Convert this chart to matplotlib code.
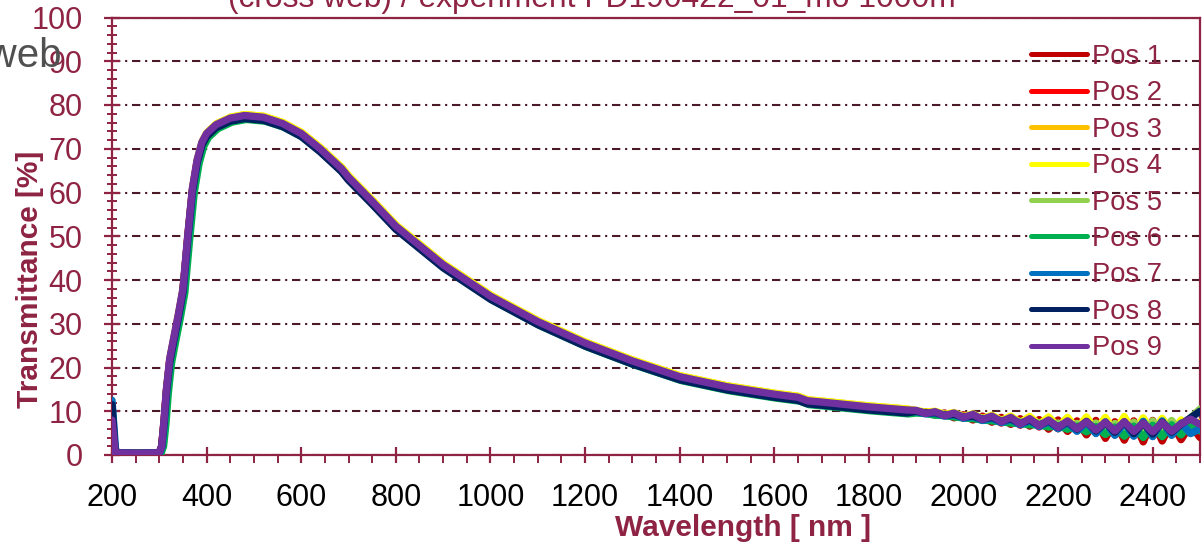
import matplotlib
matplotlib.use("Agg")
import matplotlib.pyplot as plt
from matplotlib.ticker import MultipleLocator

plt.rcParams['font.family'] = ['Liberation Sans', 'DejaVu Sans']

# ---------------- data ----------------
labels = ["Pos 1", "Pos 2", "Pos 3", "Pos 4", "Pos 5", "Pos 6", "Pos 7", "Pos 8", "Pos 9"]
colors = ["#C00000", "#FF0000", "#FFC000", "#FFFF00", "#92D050", "#00B050", "#0070C0", "#002060", "#7030A0"]

# shared main-region wavelength grid (nm) and values (%)
wl_main = [207, 250, 300, 305, 310, 315, 322, 330, 340, 350, 360, 370, 380, 390, 400, 420, 450,
           480, 520, 560, 600, 640, 670, 685, 700, 750, 800, 900, 1000, 1100, 1200, 1300, 1400,
           1500, 1600, 1650, 1670, 1700, 1800, 1880]
t_main = [0.5, 0.4, 0.5, 2.0, 8.0, 15.0, 22.0, 26.5, 32.0, 38.0, 50.0, 61.0, 67.5, 71.5, 73.5, 75.5, 77.0,
          77.6, 77.2, 75.8, 73.5, 70.0, 67.0, 65.5, 63.5, 58.0, 52.3, 43.5, 36.3, 30.5, 25.6, 21.5, 17.9,
          15.6, 13.9, 13.2, 12.4, 12.1, 11.0, 10.3]

# value at 200 nm for each position
t_start = [6.0, 5.0, 6.0, 7.0, 4.0, 3.0, 12.5, 11.5, 8.0]
# small per-position deviations in the main region
y_dev = [-0.3, -0.5, 0.2, 0.2, -0.6, -0.9, -0.3, -0.7, 0.0]
x_dev = [0, 0, 1, 1, 3, 4, 1, 0, 0]

# noisy tail (1900..2500 nm, step 20)
wl_tail = [1900, 1920, 1940, 1960, 1980, 2000, 2020, 2040, 2060, 2080, 2100, 2120, 2140, 2160, 2180, 2200,
           2220, 2240, 2260, 2280, 2300, 2320, 2340, 2360, 2380, 2400, 2420, 2440, 2460, 2480, 2500]
tail_pos1 = [9.8, 9.9, 9.1, 9.6, 8.5, 9.2, 8.0, 8.9, 7.5, 8.6, 7.0, 8.3, 6.6, 8.1, 5.9, 8.0, 5.4, 7.8, 4.6, 7.9, 3.8, 7.6, 3.4, 7.8, 3.0, 7.9, 3.2, 7.4, 3.5, 6.8, 4.0]
tail_pos2 = [9.9, 9.6, 9.4, 9.0, 9.2, 8.4, 8.9, 7.9, 8.6, 7.3, 8.5, 6.8, 8.2, 6.4, 8.0, 6.0, 7.8, 5.6, 7.7, 5.0, 7.9, 4.6, 7.5, 4.4, 7.7, 4.3, 7.6, 4.6, 7.0, 5.0, 6.5]
tail_pos3 = [10.1, 9.7, 9.8, 9.2, 9.5, 8.7, 9.2, 8.3, 8.9, 7.8, 8.7, 7.3, 8.5, 6.9, 8.3, 6.4, 8.1, 6.0, 8.2, 5.6, 8.0, 5.2, 8.1, 5.0, 8.0, 4.8, 7.8, 5.1, 7.6, 5.4, 7.0]
tail_pos4 = [10.2, 9.8, 10.0, 9.3, 9.7, 8.8, 9.4, 8.3, 9.1, 7.9, 8.9, 7.4, 8.8, 7.0, 8.7, 6.5, 8.6, 6.0, 8.7, 5.6, 8.6, 5.2, 8.8, 5.0, 8.5, 5.0, 8.4, 5.3, 8.0, 5.6, 7.5]
tail_pos5 = [9.7, 9.7, 9.2, 9.3, 8.8, 8.8, 8.4, 8.4, 7.9, 8.0, 7.4, 7.7, 7.0, 7.4, 6.5, 7.3, 6.0, 7.2, 5.4, 7.3, 4.8, 7.2, 4.5, 7.5, 4.3, 7.8, 4.4, 7.9, 5.0, 8.5, 10.5]
tail_pos6 = [9.6, 9.5, 9.1, 9.0, 8.7, 8.5, 8.3, 8.0, 7.8, 7.6, 7.3, 7.2, 6.9, 6.9, 6.4, 6.7, 5.9, 6.6, 5.3, 6.5, 4.7, 6.4, 4.3, 6.6, 4.0, 6.8, 4.2, 6.9, 4.6, 7.2, 5.5]
tail_pos7 = [9.9, 9.4, 9.6, 8.9, 9.2, 8.4, 8.8, 7.9, 8.4, 7.4, 8.1, 6.9, 7.8, 6.5, 7.6, 6.0, 7.4, 5.4, 7.5, 4.9, 7.6, 4.5, 7.4, 4.3, 7.7, 4.2, 7.8, 4.5, 7.3, 4.9, 6.0]
tail_pos8 = [10.0, 9.6, 9.7, 9.1, 9.3, 8.7, 8.9, 8.2, 8.6, 7.7, 8.3, 7.2, 8.0, 6.8, 7.8, 6.3, 7.6, 5.9, 7.7, 5.5, 7.4, 5.2, 7.6, 4.9, 7.3, 4.8, 7.5, 5.2, 7.0, 8.5, 10.0]
tail_pos9 = [10.2, 9.5, 9.9, 9.0, 9.6, 8.6, 9.3, 8.1, 8.9, 7.6, 8.6, 7.1, 8.3, 6.7, 8.0, 6.3, 7.8, 6.0, 7.6, 5.7, 7.5, 5.5, 7.6, 5.4, 7.3, 5.3, 7.4, 5.4, 7.1, 8.2, 7.0]
tails = [tail_pos1, tail_pos2, tail_pos3, tail_pos4, tail_pos5, tail_pos6, tail_pos7, tail_pos8, tail_pos9]

x_ticks = [200, 400, 600, 800, 1000, 1200, 1400, 1600, 1800, 2000, 2200, 2400]
y_ticks = [0, 10, 20, 30, 40, 50, 60, 70, 80, 90, 100]

title_text = "(cross web) / experiment PD190422_01_mo 1000m"
side_text = "cross web"
xlabel = "Wavelength [ nm ]"
ylabel = "Transmittance [%]"

# ---------------- style ----------------
MAROON = "#8E2343"
GRID = "#4B1A26"
W, H = 1202, 544

fig = plt.figure(figsize=(W / 100, H / 100), dpi=100)
ax = fig.add_axes([112 / W, 1 - 455 / H, (1200 - 112) / W, (455 - 17.5) / H])

for i in range(9):
    xs = [200] + [w + x_dev[i] for w in wl_main] + wl_tail
    ys = [t_start[i]] + [v + y_dev[i] if v > 2 else v for v in t_main] + tails[i]
    ax.plot(xs, ys, color=colors[i], lw=5.3, label=labels[i], solid_joinstyle='round',
            solid_capstyle='round', zorder=3 + i)

ax.set_xlim(200, 2500)
ax.set_ylim(0, 100)
ax.set_xticks(x_ticks)
ax.set_yticks(y_ticks)
ax.xaxis.set_minor_locator(MultipleLocator(50))
ax.yaxis.set_minor_locator(MultipleLocator(2))

ax.grid(axis='y', which='major', color=GRID, lw=1.5, linestyle=(0, (4, 2.3, 1, 2.3)), zorder=1)
ax.set_axisbelow(True)

for s in ax.spines.values():
    s.set_color(MAROON)
    s.set_linewidth(1.6)

ax.tick_params(axis='both', which='major', direction='inout', length=12, width=1.6, color=MAROON, labelsize=22)
ax.tick_params(axis='y', which='minor', direction='inout', length=7, width=1.4, color=MAROON)
ax.tick_params(axis='x', which='minor', direction='out', length=6, width=1.4, color=MAROON)
ax.tick_params(axis='x', which='major', labelcolor='black', pad=14)
ax.tick_params(axis='y', which='major', labelcolor=MAROON, pad=15)

# axis titles placed where the reference shows them
fig.text(743 / W, 1 - 528 / H, xlabel, ha='center', va='center', fontsize=21.5,
         fontweight='bold', color=MAROON)
fig.text(30 / W, 1 - 279 / H, ylabel, ha='center', va='center', rotation=90, fontsize=21.5,
         fontweight='bold', color=MAROON)

leg = ax.legend(loc='upper left', bbox_to_anchor=(1031 / W, 1 - 44 / H), bbox_transform=fig.transFigure,
                frameon=False, fontsize=19.7, handlelength=2.05, handletextpad=0.18,
                labelspacing=0.38, borderpad=0, borderaxespad=0)
for t in leg.get_texts():
    t.set_color(MAROON)
for l in leg.get_lines():
    l.set_linewidth(3.6)
leg.set_zorder(20)

fig.text(592 / W, 1 + 1 / H, title_text, ha='center', va='center', fontsize=22.9, color=MAROON)
fig.text(62 / W, 1 - 67 / H, side_text, ha='right', va='baseline', fontsize=29, color='#505050')

fig.savefig("out.png", dpi=100)
